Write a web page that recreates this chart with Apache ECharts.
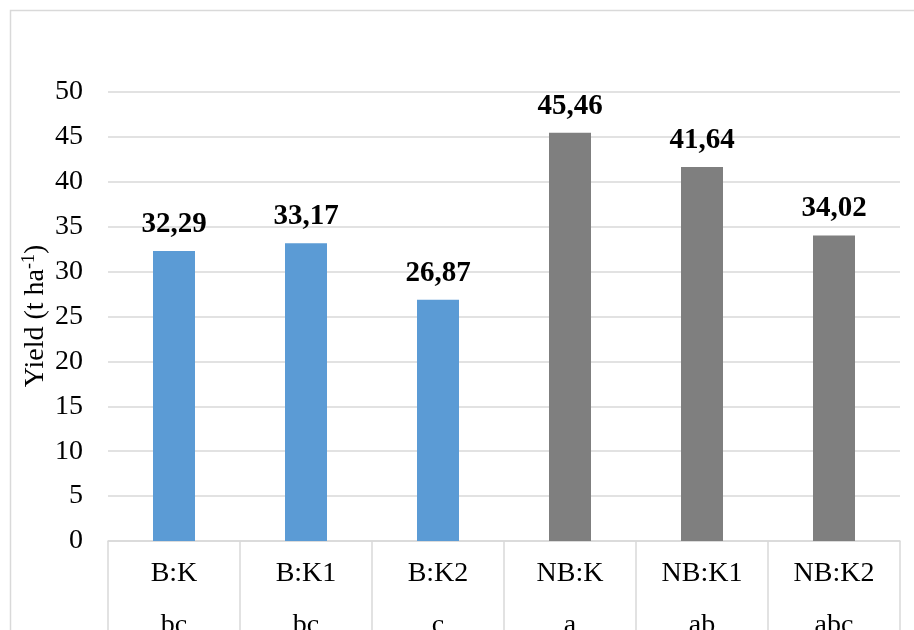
<!DOCTYPE html>
<html>
<head>
<meta charset="utf-8">
<script src="https://cdn.jsdelivr.net/npm/echarts@6/dist/echarts.min.js"></script>
<style>
html,body{margin:0;padding:0;background:#fff;}
#chart{width:914px;height:630px;}
</style>
</head>
<body>
<div id="chart"></div>
<script>
var categories = ['B:K', 'B:K1', 'B:K2', 'NB:K', 'NB:K1', 'NB:K2'];
var letters = ['bc', 'bc', 'c', 'a', 'ab', 'abc'];
var values = [32.29, 33.17, 26.87, 45.46, 41.64, 34.02];
var barColors = ['#5B9BD5', '#5B9BD5', '#5B9BD5', '#7F7F7F', '#7F7F7F', '#7F7F7F'];
var yTicks = { min: 0, max: 50, interval: 5 };
var yAxisTitle = ['Yield (t ha', '-1', ')'];

var FONT = '"Liberation Serif", "Times New Roman", serif';
var chart = echarts.init(document.getElementById('chart'));

var labelsByCat = {};
categories.forEach(function (c, i) { labelsByCat[c] = c + '\n' + letters[i]; });

chart.setOption({
  animation: false,
  backgroundColor: '#fff',
  graphic: [{
    type: 'rect',
    shape: { x: 10.5, y: 10.5, width: 1000, height: 1000 },
    style: { fill: 'none', stroke: '#d9d9d9', lineWidth: 1.5 },
    silent: true
  }, {
    type: 'text',
    x: 36,
    y: 316,
    rotation: Math.PI / 2,
    silent: true,
    style: {
      text: '{n|' + yAxisTitle[0] + '}{s|' + yAxisTitle[1] + '}{n|' + yAxisTitle[2] + '}',
      align: 'center',
      verticalAlign: 'middle',
      rich: {
        n: { fontFamily: FONT, fontSize: 28, fill: '#000', lineHeight: 32 },
        s: { fontFamily: FONT, fontSize: 18, fill: '#000', lineHeight: 32, verticalAlign: 'top' }
      }
    }
  }],
  grid: { left: 108, right: 14, top: 92, bottom: 89, containLabel: false, outerBoundsMode: 'none' },
  xAxis: {
    type: 'category',
    data: categories,
    axisLine: { show: true, lineStyle: { color: '#d9d9d9', width: 1.5 } },
    axisTick: { show: true, length: 100, alignWithLabel: false, lineStyle: { color: '#d9d9d9', width: 1.5 } },
    axisLabel: {
      margin: 7,
      fontFamily: FONT,
      fontSize: 28,
      lineHeight: 52,
      color: '#000',
      formatter: function (v) { return labelsByCat[v]; }
    }
  },
  yAxis: {
    type: 'value',
    min: yTicks.min,
    max: yTicks.max,
    interval: yTicks.interval,
    axisLine: { show: false },
    axisTick: { show: false },
    axisLabel: { margin: 25, fontFamily: FONT, fontSize: 28, color: '#000' },
    splitLine: { show: true, lineStyle: { color: '#d9d9d9', width: 1.5 } }
  },
  series: [{
    type: 'bar',
    barWidth: 42,
    data: values.map(function (v, i) { return { value: v, itemStyle: { color: barColors[i] } }; }),
    label: {
      show: true,
      position: 'top',
      distance: 12,
      fontFamily: FONT,
      fontSize: 29,
      fontWeight: 'bold',
      color: '#000',
      formatter: function (p) { return p.value.toFixed(2).replace('.', ','); }
    }
  }]
});
</script>
</body>
</html>
